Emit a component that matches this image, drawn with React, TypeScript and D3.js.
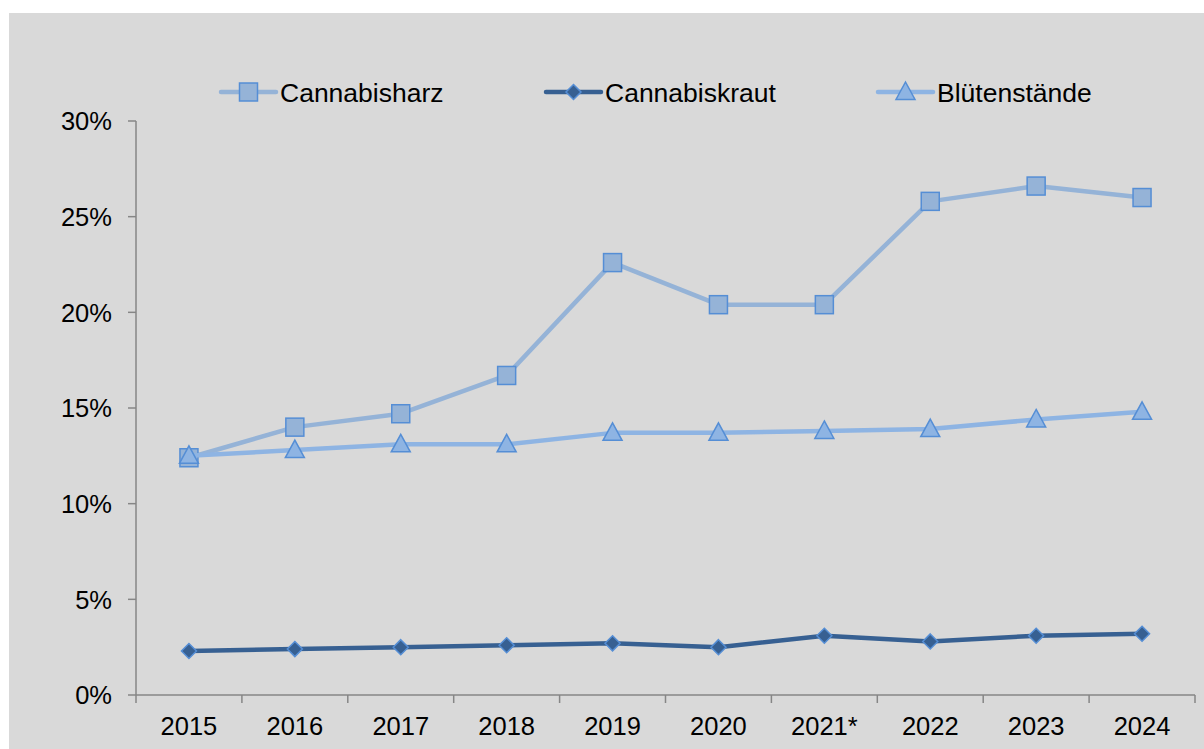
import React from 'react';
import * as d3 from 'd3';

const years = ['2015', '2016', '2017', '2018', '2019', '2020', '2021*', '2022', '2023', '2024'];
const harz = [12.4, 14.0, 14.7, 16.7, 22.6, 20.4, 20.4, 25.8, 26.6, 26.0];
const kraut = [2.3, 2.4, 2.5, 2.6, 2.7, 2.5, 3.1, 2.8, 3.1, 3.2];
const blueten = [12.5, 12.8, 13.1, 13.1, 13.7, 13.7, 13.8, 13.9, 14.4, 14.8];
const yTicks = [0, 5, 10, 15, 20, 25, 30];

const W = 1204;
const H = 749;
const left = 136;
const right = 1195;
const top = 121;
const bottom = 695;
const font = '"Liberation Sans", Arial, sans-serif';
const markerStroke = '#558ed5';

type Shape = 'square' | 'diamond' | 'triangle';

const seriesList = [
  { name: 'Cannabisharz', values: harz, line: '#95b3d7', fill: '#95b3d7', shape: 'square' as Shape, legendX: 221 },
  { name: 'Cannabiskraut', values: kraut, line: '#376092', fill: '#376092', shape: 'diamond' as Shape, legendX: 546 },
  { name: 'Blütenstände', values: blueten, line: '#8eb4e3', fill: '#8eb4e3', shape: 'triangle' as Shape, legendX: 878 },
];

function Marker({ shape, x, y, fill }: { shape: Shape; x: number; y: number; fill: string }) {
  if (shape === 'square') {
    return <rect x={x - 9} y={y - 9} width={18} height={18} fill={fill} stroke={markerStroke} strokeWidth={1.5} />;
  }
  if (shape === 'diamond') {
    const r = 7.5;
    return (
      <path
        d={`M${x},${y - r}L${x + r},${y}L${x},${y + r}L${x - r},${y}Z`}
        fill={fill}
        stroke={markerStroke}
        strokeWidth={1.5}
      />
    );
  }
  return (
    <path
      d={`M${x},${y - 10}L${x + 9.5},${y + 7.5}L${x - 9.5},${y + 7.5}Z`}
      fill={fill}
      stroke={markerStroke}
      strokeWidth={1.5}
    />
  );
}

export default function App() {
  const x = d3.scaleBand<string>().domain(years).range([left, right]);
  const y = d3.scaleLinear().domain([0, 30]).range([bottom, top]);
  const cx = (d: string) => (x(d) ?? 0) + x.bandwidth() / 2;

  const line = d3
    .line<number>()
    .x((_, i) => cx(years[i]))
    .y((v) => y(v));

  const boundaries = years.map((d) => x(d) ?? 0).concat([right]);

  return (
    <svg width={W} height={H} style={{ position: 'absolute', left: 0, top: 0 }}>
      <rect x={0} y={0} width={W} height={H} fill="#ffffff" />
      <rect x={9} y={13} width={W - 9} height={H - 13} fill="#d9d9d9" />

      {/* y axis */}
      <line x1={left} x2={left} y1={top} y2={bottom} stroke="#868686" strokeWidth={1.5} />
      {yTicks.map((t) => (
        <g key={t}>
          <line x1={left - 8} x2={left} y1={y(t)} y2={y(t)} stroke="#868686" strokeWidth={1.5} />
          <text
            x={112}
            y={y(t)}
            dy="0.36em"
            textAnchor="end"
            fontFamily={font}
            fontSize={25.5}
            fill="#000"
          >
            {t}%
          </text>
        </g>
      ))}

      {/* x axis */}
      <line x1={left} x2={right} y1={bottom} y2={bottom} stroke="#868686" strokeWidth={1.5} />
      {boundaries.map((b, i) => (
        <line key={i} x1={b} x2={b} y1={bottom} y2={bottom + 8} stroke="#868686" strokeWidth={1.5} />
      ))}
      {years.map((d) => (
        <text key={d} x={cx(d)} y={735} textAnchor="middle" fontFamily={font} fontSize={25.5} fill="#000">
          {d}
        </text>
      ))}

      {/* series */}
      {seriesList.map((s) => (
        <g key={s.name}>
          <path d={line(s.values) ?? ''} fill="none" stroke={s.line} strokeWidth={4.5} strokeLinejoin="round" />
          {s.values.map((v, i) => (
            <Marker key={i} shape={s.shape} x={cx(years[i])} y={y(v)} fill={s.fill} />
          ))}
        </g>
      ))}

      {/* legend */}
      {seriesList.map((s) => (
        <g key={s.name}>
          <line
            x1={s.legendX}
            x2={s.legendX + 55}
            y1={92}
            y2={92}
            stroke={s.line}
            strokeWidth={4.5}
            strokeLinecap="round"
          />
          <Marker shape={s.shape} x={s.legendX + 27.5} y={92} fill={s.fill} />
          <text x={s.legendX + 59} y={92} dy="0.36em" fontFamily={font} fontSize={26.5} fill="#000">
            {s.name}
          </text>
        </g>
      ))}
    </svg>
  );
}
